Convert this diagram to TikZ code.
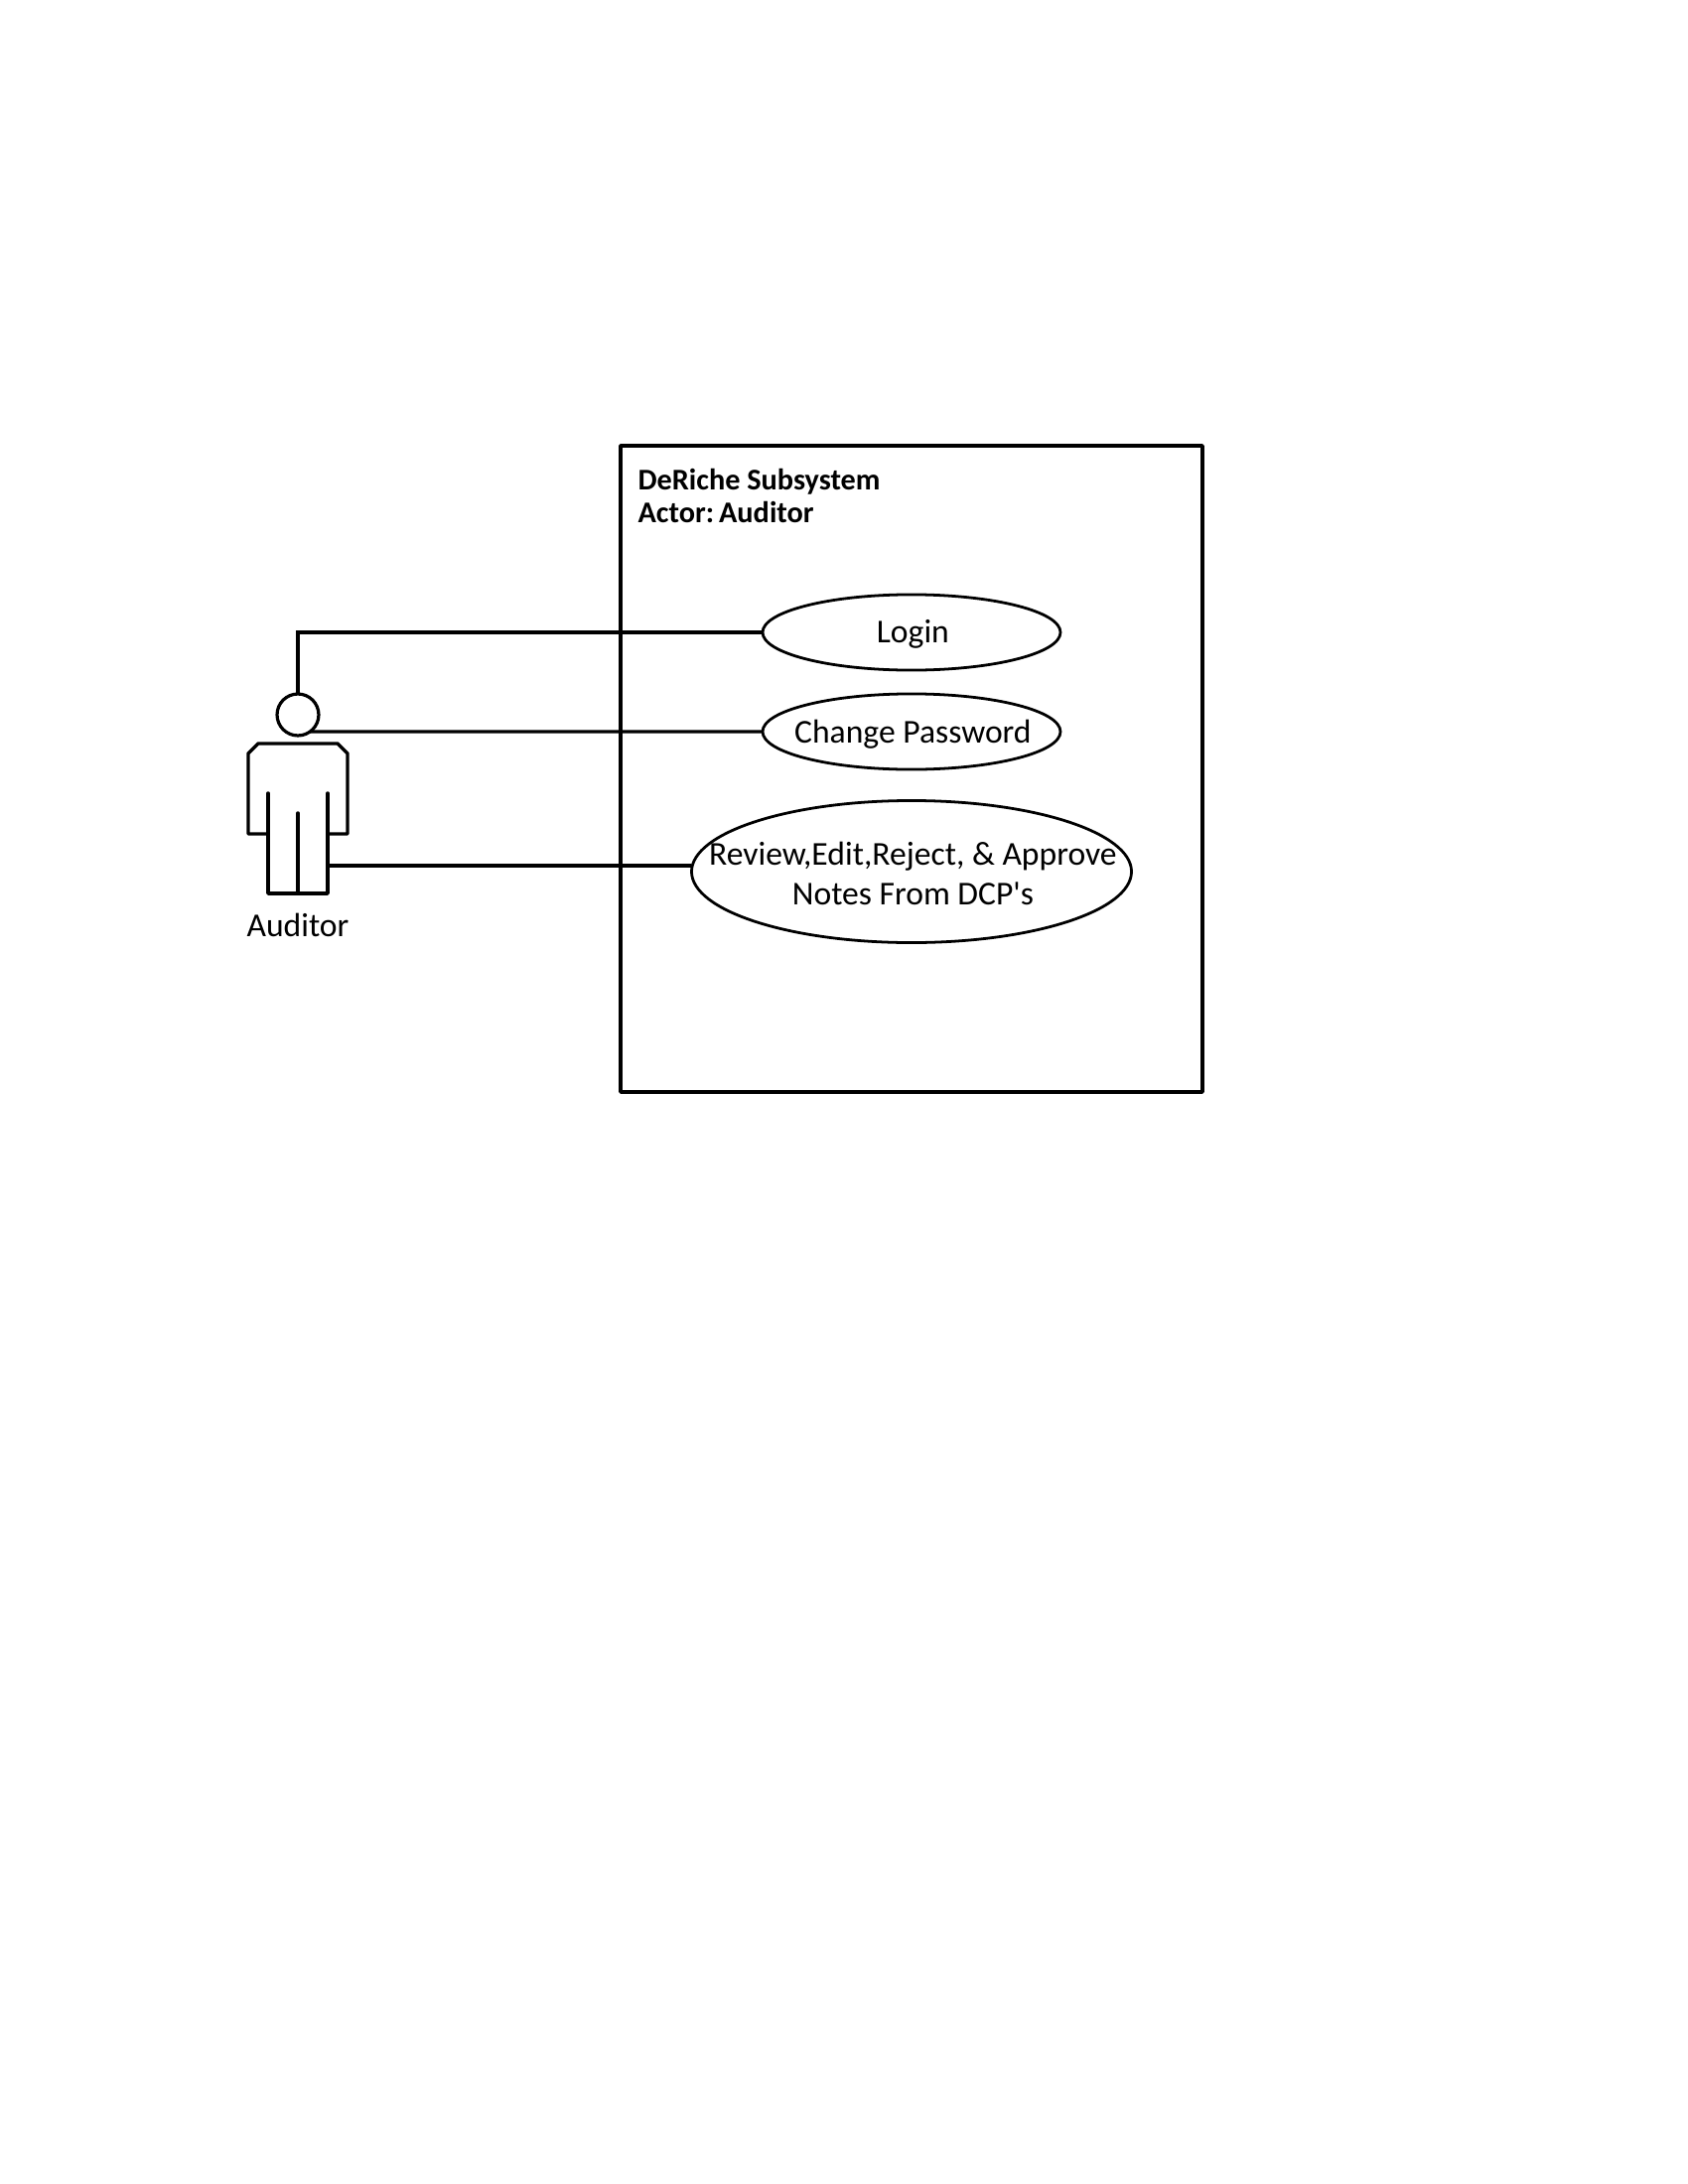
\documentclass[tikz,border=0pt]{standalone}
\usepackage{fontspec}
\setmainfont{Carlito}
\usetikzlibrary{shapes.geometric}
\tikzset{
  usecase/.style={draw,ellipse,line width=1pt,inner sep=0pt,outer sep=0pt},
  casetext/.style={inner sep=0pt,xshift=0.5pt,yshift=-0.8pt,font=\fontsize{12.1}{14.4}\selectfont,align=center},
  wire/.style={line width=1.15pt},
  outline/.style={line width=1.25pt,line join=round,line cap=round},
}
\begin{document}
\begin{tikzpicture}[x=0.36pt,y=-0.36pt]
\useasboundingbox (0,0) rectangle (1700,2200);
% system box
\draw [outline] (625,449) rectangle (1211,1100);
\node [anchor=north west,inner sep=0pt,align=left,font=\fontsize{10.9}{11.9}\selectfont\bfseries] (title) at (642,471.5) {DeRiche Subsystem\\Actor:\hspace{-1.5pt} Auditor};
% use cases
\node [usecase,minimum width=108pt,minimum height=27.4pt] (login) at (918,637) {};
\node [casetext] (logintext) at (login) {Login};
\node [usecase,minimum width=108pt,minimum height=27.4pt] (change) at (918,737) {};
\node [casetext] (changetext) at (change) {Change Password};
\node [usecase,minimum width=159.5pt,minimum height=51.5pt] (review) at (918,878) {};
\node [casetext] (reviewtext) at (review) {Review,Edit,Reject, \& Approve\\Notes From DCP\textquotesingle s};
% actor
\node [draw,circle,line width=1.15pt,minimum size=15.1pt,inner sep=0pt,outer sep=0pt] (head) at (300,720) {};
\draw [outline] (270,840) -- (250,840) -- (250,759) -- (260,749) -- (340,749) -- (350,759) -- (350,840) -- (330,840);
\draw [outline] (270,799) -- (270,900) -- (330,900) -- (330,799);
\draw [outline] (300,819) -- (300,900);
\coordinate (hip) at (330,872);
\node [inner sep=0pt,font=\fontsize{12.1}{14.4}\selectfont] (auditor) at (300,932) {Auditor};
% connectors
\draw [wire] (head.north) |- (login.west);
\draw [wire] (head.-54) -- (change.west);
\draw [wire,line width=1.4pt] (hip) -- (hip -| review.west);
\end{tikzpicture}
\end{document}
